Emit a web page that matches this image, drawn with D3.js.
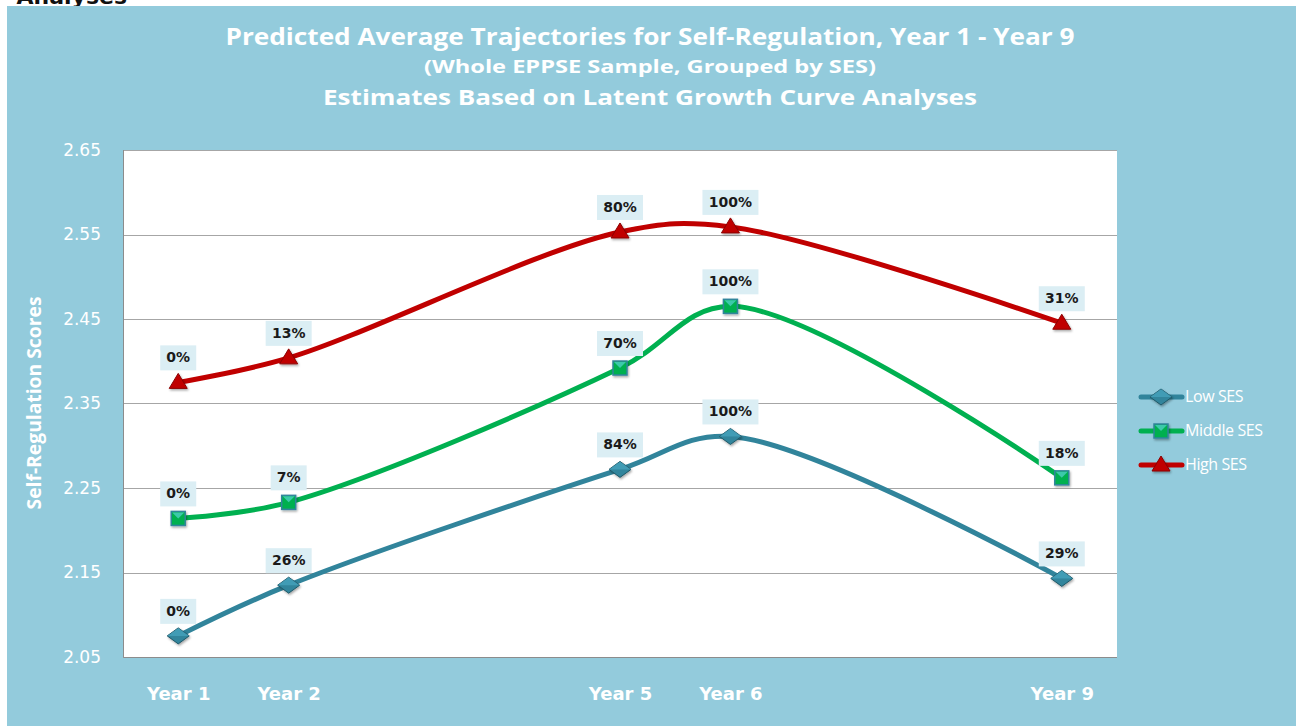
<!DOCTYPE html>
<html>
<head>
<meta charset="utf-8">
<script src="https://cdn.jsdelivr.net/npm/d3@7/dist/d3.min.js"></script>
<style>
  html, body { margin: 0; padding: 0; background: #ffffff; }
  svg { display: block; }
</style>
</head>
<body>
<div id="chart"></div>
<script>
// Chart data
const years = [1, 2, 5, 6, 9];
const yearLabels = ['Year 1', 'Year 2', 'Year 5', 'Year 6', 'Year 9'];
const lowSES = [2.075, 2.135, 2.272, 2.311, 2.143];
const middleSES = [2.214, 2.233, 2.392, 2.465, 2.262];
const highSES = [2.375, 2.404, 2.553, 2.559, 2.445];
const lowPct = ['0%', '26%', '84%', '100%', '29%'];
const middlePct = ['0%', '7%', '70%', '100%', '18%'];
const highPct = ['0%', '13%', '80%', '100%', '31%'];
const yTicks = [2.05, 2.15, 2.25, 2.35, 2.45, 2.55, 2.65];
const seriesNames = ['Low SES', 'Middle SES', 'High SES'];
const titleLines = [
  'Predicted Average Trajectories for Self-Regulation, Year 1 - Year 9',
  '(Whole EPPSE Sample, Grouped by SES)',
  'Estimates Based on Latent Growth Curve Analyses'
];

const WIDTH = 1296;
const HEIGHT = 727;
const PLOT = { left: 123, right: 1117, top: 150, bottom: 657 };
const BG = '#93cbdc';

const series = [
  { name: seriesNames[0], values: lowSES, labels: lowPct, color: '#31849b', marker: 'diamond' },
  { name: seriesNames[1], values: middleSES, labels: middlePct, color: '#00b050', marker: 'square' },
  { name: seriesNames[2], values: highSES, labels: highPct, color: '#c00000', marker: 'triangle' },
];

const svg = d3.select('#chart')
  .append('svg')
  .attr('width', WIDTH)
  .attr('height', HEIGHT);

const defs = svg.append('defs');
const shadow = defs.append('filter')
  .attr('id', 'shadow')
  .attr('x', '-50%').attr('y', '-50%')
  .attr('width', '200%').attr('height', '200%');
shadow.append('feDropShadow')
  .attr('dx', 1).attr('dy', 1.5)
  .attr('stdDeviation', 1)
  .attr('flood-color', '#000')
  .attr('flood-opacity', 0.35);

// Heading of the page, cut off by the top edge as in the source
svg.append('text')
  .attr('x', 127)
  .attr('y', 4)
  .attr('text-anchor', 'end')
  .attr('font-family', 'DejaVu Sans, sans-serif')
  .attr('font-weight', 700)
  .attr('font-size', 22)
  .attr('fill', '#111')
  .text('Analyses');

// Blue panel
svg.append('rect')
  .attr('x', 7)
  .attr('y', 6)
  .attr('width', WIDTH - 7)
  .attr('height', 720)
  .attr('fill', BG);

// Title
const titleSizes = [24, 18, 22];
const titleY = [45, 73, 105];
const titleLen = [849, 452, 654];
titleLines.forEach((line, i) => {
  svg.append('text')
    .attr('x', 650)
    .attr('y', titleY[i])
    .attr('text-anchor', 'middle')
    .attr('font-family', 'Open Sans, sans-serif')
    .attr('font-weight', 700)
    .attr('font-size', titleSizes[i])
    .attr('fill', '#ffffff')
    .attr('textLength', titleLen[i])
    .attr('lengthAdjust', 'spacingAndGlyphs')
    .text(line);
});

// Scales
const x = d3.scaleLinear()
  .domain([0.5, 9.5])
  .range([PLOT.left, PLOT.right]);

const y = d3.scaleLinear()
  .domain([2.05, 2.65])
  .range([PLOT.bottom, PLOT.top]);

// Plot area
svg.append('rect')
  .attr('x', PLOT.left)
  .attr('y', PLOT.top)
  .attr('width', PLOT.right - PLOT.left)
  .attr('height', PLOT.bottom - PLOT.top)
  .attr('fill', '#ffffff');

// Gridlines
svg.append('g')
  .selectAll('line')
  .data(yTicks)
  .join('line')
  .attr('x1', PLOT.left)
  .attr('x2', PLOT.right)
  .attr('y1', d => Math.round(y(d)) + 0.5)
  .attr('y2', d => Math.round(y(d)) + 0.5)
  .attr('stroke', '#a6a6a6')
  .attr('stroke-width', 1);

// Plot border (left + bottom axis line)
svg.append('path')
  .attr('d', `M${PLOT.left + 0.5},${PLOT.top}V${PLOT.bottom + 0.5}H${PLOT.right}`)
  .attr('fill', 'none')
  .attr('stroke', '#8c8c8c')
  .attr('stroke-width', 1);

// Y axis
const yAxis = svg.append('g')
  .attr('transform', `translate(${PLOT.left}, 0)`)
  .call(d3.axisLeft(y).tickValues(yTicks).tickFormat(d3.format('.2f')).tickSize(0).tickPadding(22));
yAxis.select('.domain').remove();
yAxis.selectAll('text')
  .attr('font-family', 'DejaVu Sans, sans-serif')
  .attr('font-size', 17)
  .attr('fill', '#ffffff');

// X axis
const xAxis = svg.append('g')
  .attr('transform', `translate(0, ${PLOT.bottom})`)
  .call(d3.axisBottom(x).tickValues(years).tickFormat((d, i) => yearLabels[i]).tickSize(0).tickPadding(30));
xAxis.select('.domain').remove();
xAxis.selectAll('text')
  .attr('font-family', 'DejaVu Sans, sans-serif')
  .attr('font-weight', 700)
  .attr('font-size', 18)
  .attr('fill', '#ffffff');

// Y axis title
svg.append('text')
  .attr('transform', 'translate(41, 403) rotate(-90)')
  .attr('text-anchor', 'middle')
  .attr('font-family', 'Open Sans, sans-serif')
  .attr('font-weight', 700)
  .attr('font-size', 19)
  .attr('fill', '#ffffff')
  .attr('textLength', 213)
  .attr('lengthAdjust', 'spacingAndGlyphs')
  .text('Self-Regulation Scores');

// Lines (smoothed like the spreadsheet's "smooth line" option)
const line = d3.line()
  .x((d, i) => x(years[i]))
  .y(d => y(d))
  .curve(d3.curveCatmullRom.alpha(0.5));

const lineG = svg.append('g');
lineG.selectAll('path')
  .data(series)
  .join('path')
  .attr('d', d => line(d.values))
  .attr('fill', 'none')
  .attr('stroke', d => d.color)
  .attr('stroke-width', 5)
  .attr('stroke-linecap', 'round')
  .attr('stroke-linejoin', 'round');

// --- Markers ---
function drawMarker(g, type, cx, cy) {
  if (type === 'diamond') {
    g.append('path')
      .attr('d', `M${cx - 11},${cy}L${cx},${cy - 8}L${cx + 11},${cy}L${cx},${cy + 8}Z`)
      .attr('fill', '#31859c')
      .attr('stroke', '#215968')
      .attr('stroke-width', 1)
      .attr('filter', 'url(#shadow)');
    g.append('path')
      .attr('d', `M${cx - 11},${cy}L${cx},${cy - 8}L${cx + 11},${cy}Z`)
      .attr('fill', '#4bacc6')
      .attr('opacity', 0.6);
  } else if (type === 'square') {
    g.append('rect')
      .attr('x', cx - 7).attr('y', cy - 7)
      .attr('width', 14).attr('height', 14)
      .attr('fill', '#00b050')
      .attr('stroke', '#31859c')
      .attr('stroke-width', 1.5)
      .attr('filter', 'url(#shadow)');
    g.append('path')
      .attr('d', `M${cx - 6},${cy - 6}L${cx},${cy}L${cx + 6},${cy - 6}Z`)
      .attr('fill', '#4bd0c0')
      .attr('opacity', 0.8);
  } else {
    g.append('path')
      .attr('d', `M${cx},${cy - 9}L${cx + 9},${cy + 6}L${cx - 9},${cy + 6}Z`)
      .attr('fill', '#c00000')
      .attr('stroke', '#8b0000')
      .attr('stroke-width', 1)
      .attr('filter', 'url(#shadow)');
  }
}

const markerG = svg.append('g');
series.forEach(s => {
  s.values.forEach((v, i) => drawMarker(markerG, s.marker, x(years[i]), y(v)));
});

// Data labels
const labelG = svg.append('g');
series.forEach(s => {
  s.values.forEach((v, i) => {
    const cx = x(years[i]);
    const cy = y(v) - 25;
    const txt = s.labels[i];
    const w = txt.length * 10 + 16;
    labelG.append('rect')
      .attr('x', cx - w / 2)
      .attr('y', cy - 12)
      .attr('width', w)
      .attr('height', 25)
      .attr('fill', '#dbeef4');
    labelG.append('text')
      .attr('x', cx)
      .attr('y', cy + 5)
      .attr('text-anchor', 'middle')
      .attr('font-family', 'DejaVu Sans, sans-serif')
      .attr('font-weight', 700)
      .attr('font-size', 14)
      .attr('fill', '#1a1a1a')
      .text(txt);
  });
});

// Legend
const legendY = [397, 431, 465];
const legend = svg.append('g');
series.forEach((s, i) => {
  const ly = legendY[i];
  legend.append('line')
    .attr('x1', 1141).attr('x2', 1182)
    .attr('y1', ly).attr('y2', ly)
    .attr('stroke', s.color)
    .attr('stroke-width', 5)
    .attr('stroke-linecap', 'round');
  drawMarker(legend, s.marker, 1161, ly);
  legend.append('text')
    .attr('x', 1185)
    .attr('y', ly + 5)
    .attr('font-family', 'Open Sans, sans-serif')
    .attr('font-size', 16)
    .attr('fill', '#ffffff')
    .attr('letter-spacing', -0.4)
    .text(s.name);
});
</script>
</body>
</html>
